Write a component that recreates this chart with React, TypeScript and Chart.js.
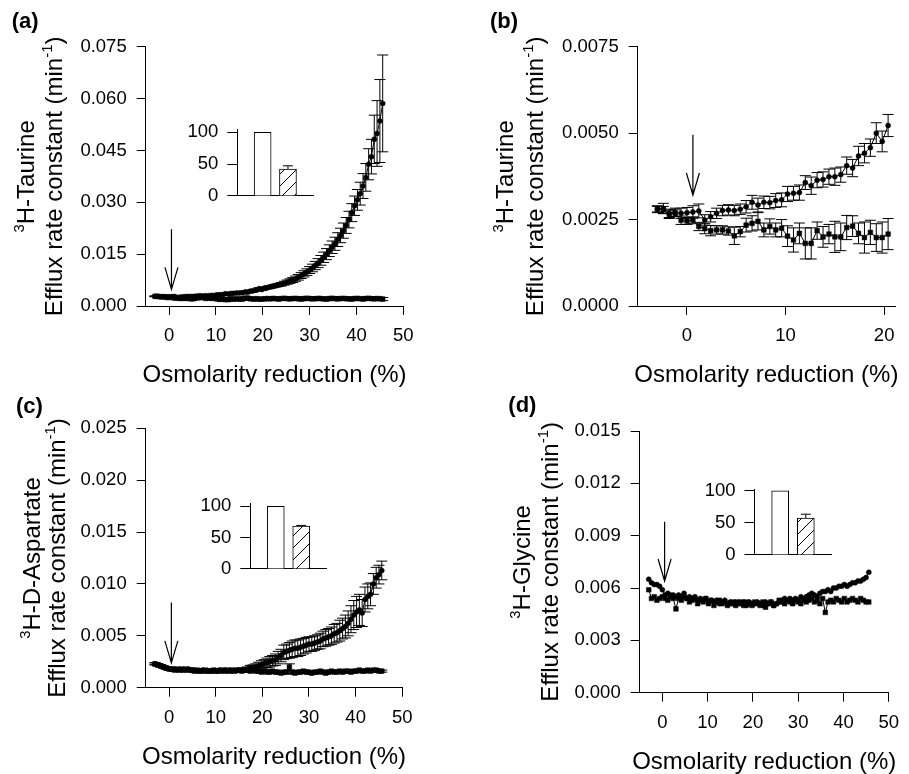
import React, { useEffect, useRef } from 'react';
import { Chart, registerables } from 'chart.js';

Chart.register(...registerables);

const FONT = '"Liberation Sans", Arial, Helvetica, sans-serif';

// ---------------- DATA ----------------
const osmReduction = [
  -3.0, -2.4, -1.8, -1.2, -0.6, 0.0, 0.6, 1.2, 1.8, 2.4,
  3.0, 3.6, 4.2, 4.8, 5.4, 6.0, 6.6, 7.2, 7.8, 8.4,
  9.0, 9.6, 10.2, 10.8, 11.4, 12.0, 12.6, 13.2, 13.8, 14.4,
  15.0, 15.6, 16.2, 16.8, 17.4, 18.0, 18.6, 19.2, 19.8, 20.4,
  21.0, 21.6, 22.2, 22.8, 23.4, 24.0, 24.6, 25.2, 25.8, 26.4,
  27.0, 27.6, 28.2, 28.8, 29.4, 30.0, 30.6, 31.2, 31.8, 32.4,
  33.0, 33.6, 34.2, 34.8, 35.4, 36.0, 36.6, 37.2, 37.8, 38.4,
  39.0, 39.6, 40.2, 40.8, 41.4, 42.0, 42.6, 43.2, 43.8, 44.4,
  45.0, 45.6,
];

const taurineHypo = [
  0.00280, 0.00282, 0.00268, 0.00271, 0.00268, 0.00270, 0.00272, 0.00275, 0.00249, 0.00258,
  0.00268, 0.00276, 0.00278, 0.00276, 0.00280, 0.00287, 0.00300, 0.00292, 0.00300, 0.00299,
  0.00305, 0.00307, 0.00324, 0.00326, 0.00328, 0.00357, 0.00348, 0.00364, 0.00366, 0.00374,
  0.00374, 0.00380, 0.00406, 0.00399, 0.00434, 0.00442, 0.00458, 0.00500, 0.00476, 0.00522,
  0.00530, 0.00550, 0.00570, 0.00590, 0.00610, 0.00630, 0.00660, 0.00690, 0.00720, 0.00750,
  0.00790, 0.00830, 0.00880, 0.00930, 0.00980, 0.01040, 0.01100, 0.01170, 0.01240, 0.01320,
  0.01410, 0.01500, 0.01600, 0.01700, 0.01800, 0.01920, 0.02040, 0.02180, 0.02330, 0.02500,
  0.02700, 0.02900, 0.03070, 0.03250, 0.03470, 0.03720, 0.04100, 0.04320, 0.04820, 0.04990,
  0.05350, 0.05860,
];
const taurineHypoErr = [
  0.00010, 0.00015, 0.00012, 0.00012, 0.00015, 0.00015, 0.00018, 0.00020, 0.00015, 0.00015,
  0.00015, 0.00015, 0.00015, 0.00015, 0.00015, 0.00018, 0.00020, 0.00020, 0.00018, 0.00018,
  0.00020, 0.00020, 0.00022, 0.00020, 0.00022, 0.00020, 0.00025, 0.00022, 0.00022, 0.00022,
  0.00025, 0.00022, 0.00025, 0.00025, 0.00028, 0.00028, 0.00025, 0.00030, 0.00030, 0.00032,
  0.00035, 0.00038, 0.00040, 0.00042, 0.00045, 0.00050, 0.00055, 0.00060, 0.00065, 0.00070,
  0.00075, 0.00080, 0.00085, 0.00090, 0.00095, 0.00100, 0.00110, 0.00120, 0.00130, 0.00140,
  0.00150, 0.00160, 0.00170, 0.00180, 0.00190, 0.00200, 0.00210, 0.00220, 0.00230, 0.00240,
  0.00260, 0.00280, 0.00300, 0.00330, 0.00360, 0.00400, 0.00450, 0.00500, 0.00700, 0.00950,
  0.01200, 0.01400,
];
const taurineBlocked = [
  0.00280, 0.00278, 0.00265, 0.00268, 0.00248, 0.00246, 0.00248, 0.00230, 0.00224, 0.00218,
  0.00220, 0.00220, 0.00217, 0.00203, 0.00215, 0.00234, 0.00239, 0.00245, 0.00220, 0.00230,
  0.00220, 0.00225, 0.00202, 0.00191, 0.00210, 0.00181, 0.00181, 0.00218, 0.00200, 0.00208,
  0.00200, 0.00200, 0.00227, 0.00231, 0.00210, 0.00198, 0.00213, 0.00198, 0.00198, 0.00208,
  0.00215, 0.00205, 0.00220, 0.00210, 0.00200, 0.00215, 0.00225, 0.00210, 0.00205, 0.00215,
  0.00220, 0.00210, 0.00200, 0.00215, 0.00225, 0.00215, 0.00205, 0.00210, 0.00220, 0.00215,
  0.00205, 0.00200, 0.00215, 0.00225, 0.00210, 0.00205, 0.00215, 0.00220, 0.00210, 0.00205,
  0.00200, 0.00215, 0.00220, 0.00210, 0.00200, 0.00215, 0.00225, 0.00210, 0.00205, 0.00215,
  0.00210, 0.00200,
];
const taurineBlockedErr = [
  0.00008, 0.00010, 0.00012, 0.00010, 0.00012, 0.00010, 0.00010, 0.00012, 0.00015, 0.00015,
  0.00012, 0.00012, 0.00012, 0.00025, 0.00015, 0.00020, 0.00022, 0.00025, 0.00020, 0.00022,
  0.00020, 0.00025, 0.00030, 0.00035, 0.00030, 0.00045, 0.00045, 0.00025, 0.00030, 0.00028,
  0.00045, 0.00040, 0.00035, 0.00030, 0.00030, 0.00045, 0.00035, 0.00040, 0.00045, 0.00045,
  0.00040, 0.00035, 0.00040, 0.00045, 0.00040, 0.00035, 0.00040, 0.00045, 0.00040, 0.00040,
  0.00035, 0.00040, 0.00045, 0.00040, 0.00035, 0.00040, 0.00040, 0.00045, 0.00040, 0.00035,
  0.00040, 0.00045, 0.00040, 0.00040, 0.00035, 0.00040, 0.00045, 0.00040, 0.00035, 0.00040,
  0.00040, 0.00045, 0.00040, 0.00035, 0.00040, 0.00040, 0.00045, 0.00040, 0.00035, 0.00040,
  0.00040, 0.00045,
];

const aspartateHypo = [
  0.0023, 0.0022, 0.0021, 0.0020, 0.0019, 0.0018, 0.0018, 0.0018, 0.0017, 0.0018,
  0.0018, 0.0017, 0.0018, 0.0017, 0.0017, 0.0016, 0.0016, 0.0017, 0.0016, 0.0016,
  0.0016, 0.0016, 0.0016, 0.0017, 0.0016, 0.0017, 0.0016, 0.0017, 0.0017, 0.0016,
  0.0017, 0.0017, 0.0017, 0.0018, 0.0019, 0.0019, 0.0020, 0.0021, 0.0022, 0.0023,
  0.0024, 0.0025, 0.0026, 0.0027, 0.0029, 0.0031, 0.0034, 0.0035, 0.0036, 0.0037,
  0.0038, 0.0038, 0.0039, 0.0040, 0.0041, 0.0042, 0.0042, 0.0043, 0.0044, 0.0045,
  0.0047, 0.0048, 0.0049, 0.0050, 0.0052, 0.0053, 0.0055, 0.0057, 0.0059, 0.0062,
  0.0066, 0.0070, 0.0073, 0.0075, 0.0072, 0.0085, 0.0088, 0.0090, 0.0100, 0.0106,
  0.0109, 0.0113,
];
const aspartateHypoErr = [
  0.00010, 0.00010, 0.00008, 0.00008, 0.00010, 0.00008, 0.00008, 0.00010, 0.00008, 0.00008,
  0.00008, 0.00010, 0.00008, 0.00008, 0.00010, 0.00008, 0.00008, 0.00010, 0.00008, 0.00010,
  0.00010, 0.00008, 0.00010, 0.00010, 0.00008, 0.00010, 0.00010, 0.00012, 0.00012, 0.00012,
  0.00015, 0.00015, 0.00020, 0.00020, 0.00025, 0.00030, 0.00030, 0.00035, 0.00040, 0.00040,
  0.00045, 0.00050, 0.00050, 0.00055, 0.00060, 0.00060, 0.00070, 0.00070, 0.00075, 0.00080,
  0.00080, 0.00080, 0.00080, 0.00075, 0.00075, 0.00070, 0.00070, 0.00070, 0.00070, 0.00075,
  0.00075, 0.00080, 0.00080, 0.00085, 0.00090, 0.00090, 0.00100, 0.00100, 0.00110, 0.00120,
  0.00130, 0.00140, 0.00150, 0.00150, 0.00130, 0.00120, 0.00120, 0.00110, 0.00100, 0.00100,
  0.00090, 0.00090,
];
const aspartateBlocked = [
  0.0023, 0.0022, 0.0021, 0.0020, 0.0019, 0.0018, 0.0018, 0.0017, 0.0018, 0.0017,
  0.0017, 0.0018, 0.0017, 0.0017, 0.0016, 0.0017, 0.0016, 0.0016, 0.0017, 0.0016,
  0.0016, 0.0017, 0.0016, 0.0016, 0.0017, 0.0016, 0.0017, 0.0016, 0.0016, 0.0017,
  0.0017, 0.0016, 0.0017, 0.0017, 0.0016, 0.0017, 0.0016, 0.0016, 0.0015, 0.0016,
  0.0015, 0.0015, 0.0016, 0.0015, 0.0015, 0.0014, 0.0015, 0.0015, 0.0020, 0.0015,
  0.0014, 0.0015, 0.0015, 0.0016, 0.0015, 0.0015, 0.0014, 0.0015, 0.0015, 0.0016,
  0.0015, 0.0014, 0.0015, 0.0016, 0.0015, 0.0015, 0.0016, 0.0015, 0.0016, 0.0016,
  0.0015, 0.0016, 0.0016, 0.0017, 0.0016, 0.0016, 0.0017, 0.0016, 0.0017, 0.0017,
  0.0016, 0.0016,
];
const aspartateBlockedErr = [
  0.00010, 0.00008, 0.00010, 0.00008, 0.00008, 0.00010, 0.00008, 0.00010, 0.00008, 0.00008,
  0.00010, 0.00008, 0.00010, 0.00008, 0.00010, 0.00008, 0.00010, 0.00008, 0.00008, 0.00010,
  0.00008, 0.00010, 0.00008, 0.00010, 0.00008, 0.00010, 0.00008, 0.00010, 0.00008, 0.00010,
  0.00010, 0.00008, 0.00010, 0.00008, 0.00010, 0.00008, 0.00010, 0.00008, 0.00010, 0.00010,
  0.00010, 0.00008, 0.00010, 0.00010, 0.00008, 0.00010, 0.00010, 0.00015, 0.00030, 0.00012,
  0.00010, 0.00010, 0.00008, 0.00010, 0.00010, 0.00008, 0.00010, 0.00010, 0.00008, 0.00010,
  0.00010, 0.00008, 0.00010, 0.00010, 0.00008, 0.00010, 0.00010, 0.00008, 0.00010, 0.00010,
  0.00008, 0.00010, 0.00010, 0.00008, 0.00010, 0.00010, 0.00008, 0.00010, 0.00010, 0.00008,
  0.00010, 0.00010,
];

const glycineHypo = [
  0.0065, 0.0063, 0.0062, 0.0062, 0.0061, 0.0059, 0.0056, 0.0057, 0.0056, 0.0056,
  0.0055, 0.0056, 0.0055, 0.0057, 0.0054, 0.0055, 0.0054, 0.0055, 0.0053, 0.0054,
  0.0053, 0.0054, 0.0052, 0.0053, 0.0052, 0.0053, 0.0051, 0.0052, 0.0053, 0.0051,
  0.0052, 0.0051, 0.0052, 0.0052, 0.0051, 0.0052, 0.0050, 0.0052, 0.0051, 0.0051,
  0.0052, 0.0051, 0.0050, 0.0052, 0.0051, 0.0052, 0.0050, 0.0051, 0.0052, 0.0053,
  0.0054, 0.0053, 0.0054, 0.0053, 0.0054, 0.0053, 0.0055, 0.0054, 0.0055, 0.0056,
  0.0057, 0.0056, 0.0055, 0.0057, 0.0058, 0.0058, 0.0059, 0.0058, 0.0060, 0.0060,
  0.0061, 0.0061, 0.0062, 0.0061, 0.0062, 0.0063, 0.0063, 0.0064, 0.0064, 0.0065,
  0.0066, 0.0069,
];
const glycineBlocked = [
  0.0059, 0.0054, 0.0055, 0.0053, 0.0054, 0.0055, 0.0054, 0.0053, 0.0055, 0.0054,
  0.0048, 0.0054, 0.0053, 0.0055, 0.0054, 0.0052, 0.0053, 0.0054, 0.0051, 0.0053,
  0.0052, 0.0054, 0.0051, 0.0053, 0.0050, 0.0052, 0.0053, 0.0051, 0.0052, 0.0050,
  0.0051, 0.0052, 0.0050, 0.0051, 0.0052, 0.0050, 0.0052, 0.0051, 0.0050, 0.0052,
  0.0051, 0.0050, 0.0052, 0.0049, 0.0051, 0.0052, 0.0050, 0.0051, 0.0053, 0.0052,
  0.0051, 0.0053, 0.0052, 0.0051, 0.0053, 0.0052, 0.0051, 0.0053, 0.0052, 0.0053,
  0.0054, 0.0052, 0.0053, 0.0051, 0.0054, 0.0046, 0.0052, 0.0053, 0.0052, 0.0054,
  0.0053, 0.0052, 0.0054, 0.0052, 0.0053, 0.0054, 0.0053, 0.0052, 0.0054, 0.0053,
  0.0052, 0.0052,
];

const xTicksWide = [0, 10, 20, 30, 40, 50];
const xTicksNarrow = [0, 10, 20];
const yTicksA = [0, 0.015, 0.03, 0.045, 0.06, 0.075];
const yTicksB = [0, 0.0025, 0.005, 0.0075];
const yTicksC = [0, 0.005, 0.01, 0.015, 0.02, 0.025];
const yTicksD = [0, 0.003, 0.006, 0.009, 0.012, 0.015];

// arrows: [x, from y, to y] in data units
const arrowA = [0.5, 0.0222, 0.0048];
const arrowB = [0.6, 0.00495, 0.00321];
const arrowC = [0.5, 0.0082, 0.0024];
const arrowD = [0.5, 0.0098, 0.0064];

// insets (% of hypo-osmotic response)
const insetCategories = ['', 'Hypo', 'Hypo + blocker', ''];
const insetTicks = [0, 50, 100];
const insetTaurine = [null, 100, 42, null];
const insetTaurineErr = [0, 0, 5.3, 0];
const insetAspartate = [null, 100, 68.4, null];
const insetAspartateErr = [0, 0, 1.0, 0];
const insetGlycine = [null, 100, 57.6, null];
const insetGlycineErr = [0, 0, 5.9, 0];

// ---------------- HELPERS ----------------
type Seg = { t: string; sup?: boolean };
type Box = { left: number; top: number; width: number; height: number };
type Area = { left: number; right: number; top: number; bottom: number };

function drawSegs(ctx: CanvasRenderingContext2D, segs: Seg[], cx: number, by: number, size: number) {
  const widths = segs.map((s) => {
    ctx.font = `${s.sup ? size * 0.62 : size}px ${FONT}`;
    return ctx.measureText(s.t).width;
  });
  const total = widths.reduce((a, b) => a + b, 0);
  let x = cx - total / 2;
  ctx.textAlign = 'left';
  ctx.textBaseline = 'alphabetic';
  segs.forEach((s, i) => {
    ctx.font = `${s.sup ? size * 0.62 : size}px ${FONT}`;
    ctx.fillText(s.t, x, s.sup ? by - size * 0.42 : by);
    x += widths[i];
  });
}

const errorBarPlugin = {
  id: 'errorBars',
  beforeDatasetsDraw(chart: any) {
    const { ctx, chartArea } = chart;
    ctx.save();
    ctx.beginPath();
    ctx.rect(chartArea.left, chartArea.top - 2, chartArea.right - chartArea.left, chartArea.bottom - chartArea.top + 4);
    ctx.clip();
    chart.data.datasets.forEach((ds: any, di: number) => {
      if (!ds.errors) return;
      const meta = chart.getDatasetMeta(di);
      const yScale = chart.scales[meta.yAxisID];
      const cap = ds.capHalf ?? 5;
      ctx.strokeStyle = '#000';
      ctx.lineWidth = 1;
      ds.data.forEach((p: any, i: number) => {
        const e = ds.errors[i];
        if (!e || p == null) return;
        const el = meta.data[i];
        if (!el) return;
        const yv = typeof p === 'object' ? p.y : p;
        if (yv == null) return;
        const px = el.x;
        const yTop = yScale.getPixelForValue(yv + e);
        const yBot = ds.upOnly ? yScale.getPixelForValue(yv) : yScale.getPixelForValue(yv - e);
        ctx.beginPath();
        ctx.moveTo(px, yTop);
        ctx.lineTo(px, yBot);
        ctx.moveTo(px - cap, yTop);
        ctx.lineTo(px + cap, yTop);
        if (!ds.upOnly) {
          ctx.moveTo(px - cap, yBot);
          ctx.lineTo(px + cap, yBot);
        }
        ctx.stroke();
      });
    });
    ctx.restore();
  },
};

interface Series {
  ys: number[];
  errs?: number[];
  marker: 'circle' | 'rect';
}

interface MainSpec {
  box: Box;
  area: Area;
  xs: number[];
  series: Series[];
  xMin: number;
  xMax: number;
  xTicks: number[];
  yMax: number;
  yTicks: number[];
  decimals: number;
  arrow: number[];
  letter: string;
  letterAt: [number, number];
  title1: Seg[];
  title2: Seg[];
  titleOffsets: [number, number];
}

const TITLE_SIZE = 24;

function MainPanel(p: MainSpec) {
  const ref = useRef<HTMLCanvasElement>(null);
  useEffect(() => {
    const { box, area } = p;
    const textPlugin = {
      id: 'panelText',
      afterDraw(chart: any) {
        const ctx: CanvasRenderingContext2D = chart.ctx;
        const ca = chart.chartArea;
        const xs = chart.scales.x;
        const ys = chart.scales.y;
        ctx.save();
        ctx.fillStyle = '#000';
        ctx.strokeStyle = '#000';
        // arrow
        const ax = xs.getPixelForValue(p.arrow[0]);
        const a0 = ys.getPixelForValue(p.arrow[1]);
        const a1 = ys.getPixelForValue(p.arrow[2]);
        ctx.lineWidth = 1.2;
        ctx.beginPath();
        ctx.moveTo(ax, a0);
        ctx.lineTo(ax, a1);
        ctx.moveTo(ax - 6.5, a1 - 22);
        ctx.lineTo(ax, a1);
        ctx.lineTo(ax + 6.5, a1 - 22);
        ctx.stroke();
        // panel letter
        ctx.font = `bold 22px ${FONT}`;
        ctx.textAlign = 'left';
        ctx.textBaseline = 'alphabetic';
        ctx.fillText(p.letter, p.letterAt[0] - box.left, p.letterAt[1] - box.top);
        // x title
        drawSegs(ctx, [{ t: 'Osmolarity reduction (%)' }], (ca.left + ca.right) / 2, ca.bottom + 76, TITLE_SIZE);
        // y titles
        const cy = (ca.top + ca.bottom) / 2;
        ctx.save();
        ctx.translate(ca.left + p.titleOffsets[0], cy);
        ctx.rotate(-Math.PI / 2);
        drawSegs(ctx, p.title1, 0, 0, TITLE_SIZE);
        ctx.restore();
        ctx.save();
        ctx.translate(ca.left + p.titleOffsets[1], cy);
        ctx.rotate(-Math.PI / 2);
        drawSegs(ctx, p.title2, 0, 0, TITLE_SIZE);
        ctx.restore();
        ctx.restore();
      },
    };
    const datasets = p.series.map((s) => ({
      data: p.xs.map((x, i) => ({ x, y: s.ys[i] })),
      errors: s.errs,
      capHalf: 5.5,
      borderColor: '#000',
      borderWidth: 1,
      backgroundColor: '#000',
      pointStyle: s.marker,
      pointRadius: s.marker === 'rect' ? 3.3 : 2.5,
      pointBackgroundColor: '#000',
      pointBorderColor: '#000',
      pointBorderWidth: 0.5,
      tension: 0,
      fill: false,
    }));
    const tickFont = { family: FONT, size: 18.5 };
    const chart = new Chart(ref.current!, {
      type: 'line',
      data: { datasets } as any,
      plugins: [errorBarPlugin, textPlugin] as any,
      options: {
        responsive: false,
        animation: false,
        devicePixelRatio: 1,
        events: [],
        layout: {
          padding: {
            left: 0,
            top: area.top - box.top,
            right: box.left + box.width - area.right,
            bottom: 0,
          },
        },
        plugins: { legend: { display: false }, tooltip: { enabled: false } },
        scales: {
          x: {
            type: 'linear',
            min: p.xMin,
            max: p.xMax,
            afterBuildTicks: (s: any) => {
              s.ticks = p.xTicks.map((v) => ({ value: v }));
            },
            afterFit: (s: any) => {
              s.height = box.top + box.height - area.bottom;
            },
            grid: { display: true, drawOnChartArea: false, drawTicks: true, tickLength: 9, color: '#000', lineWidth: 1 },
            border: { display: true, color: '#000', width: 1 },
            ticks: { color: '#000', font: tickFont, padding: 10, maxRotation: 0, autoSkip: false },
          },
          y: {
            type: 'linear',
            min: 0,
            max: p.yMax,
            afterBuildTicks: (s: any) => {
              s.ticks = p.yTicks.map((v) => ({ value: v }));
            },
            afterFit: (s: any) => {
              s.width = area.left - box.left;
            },
            grid: { display: true, drawOnChartArea: false, drawTicks: true, tickLength: 9, color: '#000', lineWidth: 1 },
            border: { display: true, color: '#000', width: 1 },
            ticks: {
              color: '#000',
              font: tickFont,
              padding: 10,
              autoSkip: false,
              callback: (v: any) => Number(v).toFixed(p.decimals),
            },
          },
        },
      } as any,
    });
    return () => chart.destroy();
  }, []);
  return (
    <canvas
      ref={ref}
      width={p.box.width}
      height={p.box.height}
      style={{ position: 'absolute', left: p.box.left, top: p.box.top, width: p.box.width, height: p.box.height }}
    />
  );
}

interface InsetSpec {
  area: Area;
  yMax: number;
  values: (number | null)[];
  errs: number[];
}

function makeHatch(): CanvasPattern | string {
  const c = document.createElement('canvas');
  c.width = 12;
  c.height = 12;
  const g = c.getContext('2d');
  if (!g) return '#fff';
  g.fillStyle = '#fff';
  g.fillRect(0, 0, 12, 12);
  g.strokeStyle = '#000';
  g.lineWidth = 1;
  g.beginPath();
  g.moveTo(0, 12);
  g.lineTo(12, 0);
  g.moveTo(-6, 6);
  g.lineTo(6, -6);
  g.moveTo(6, 18);
  g.lineTo(18, 6);
  g.stroke();
  return g.createPattern(c, 'repeat') || '#fff';
}

function InsetPanel(p: InsetSpec) {
  const ref = useRef<HTMLCanvasElement>(null);
  const { area } = p;
  const box: Box = {
    left: Math.round(area.left - 60),
    top: Math.round(area.top - 15),
    width: Math.round(area.right - area.left + 70),
    height: Math.round(area.bottom - area.top + 30),
  };
  useEffect(() => {
    const hatch = makeHatch();
    const chart = new Chart(ref.current!, {
      type: 'bar',
      data: {
        labels: insetCategories,
        datasets: [
          {
            data: p.values,
            errors: p.errs,
            upOnly: true,
            capHalf: 5,
            backgroundColor: ['#fff', '#fff', hatch, '#fff'],
            borderColor: '#000',
            borderWidth: 1,
            barThickness: 17,
          },
        ],
      } as any,
      plugins: [errorBarPlugin] as any,
      options: {
        responsive: false,
        animation: false,
        devicePixelRatio: 1,
        events: [],
        layout: {
          padding: {
            left: 0,
            top: area.top - box.top,
            right: box.left + box.width - area.right,
            bottom: 0,
          },
        },
        plugins: { legend: { display: false }, tooltip: { enabled: false } },
        scales: {
          x: {
            type: 'category',
            offset: false,
            afterFit: (s: any) => {
              s.height = box.top + box.height - area.bottom;
            },
            grid: { display: true, drawOnChartArea: false, drawTicks: false },
            border: { display: true, color: '#000', width: 1 },
            ticks: { display: false },
          },
          y: {
            type: 'linear',
            min: 0,
            max: p.yMax,
            afterBuildTicks: (s: any) => {
              s.ticks = insetTicks.map((v) => ({ value: v }));
            },
            afterFit: (s: any) => {
              s.width = area.left - box.left;
            },
            grid: { display: true, drawOnChartArea: false, drawTicks: true, tickLength: 10, color: '#000' },
            border: { display: true, color: '#000', width: 1 },
            ticks: { color: '#000', font: { family: FONT, size: 18.5 }, padding: 9, autoSkip: false },
          },
        },
      } as any,
    });
    return () => chart.destroy();
  }, []);
  return (
    <canvas
      ref={ref}
      width={box.width}
      height={box.height}
      style={{ position: 'absolute', left: box.left, top: box.top, width: box.width, height: box.height }}
    />
  );
}

const effluxTitle: Seg[] = [{ t: 'Efflux rate constant (min' }, { t: '-1', sup: true }, { t: ')' }];

export default function App() {
  const nB = 40;
  return (
    <div style={{ position: 'fixed', left: 0, top: 0, width: 909, height: 774, background: '#fff', overflow: 'hidden' }}>
      <MainPanel
        box={{ left: 0, top: 0, width: 450, height: 390 }}
        area={{ left: 145.7, right: 403.3, top: 46.7, bottom: 306 }}
        xs={osmReduction}
        series={[
          { ys: taurineBlocked, errs: taurineBlockedErr, marker: 'rect' },
          { ys: taurineHypo, errs: taurineHypoErr, marker: 'circle' },
        ]}
        xMin={-5}
        xMax={50}
        xTicks={xTicksWide}
        yMax={0.075}
        yTicks={yTicksA}
        decimals={3}
        arrow={arrowA}
        letter="(a)"
        letterAt={[11.7, 28]}
        title1={[{ t: '3', sup: true }, { t: 'H-Taurine' }]}
        title2={effluxTitle}
        titleOffsets={[-112, -84]}
      />
      <MainPanel
        box={{ left: 450, top: 0, width: 459, height: 390 }}
        area={{ left: 637.7, right: 895, top: 46.7, bottom: 306 }}
        xs={osmReduction.slice(0, nB)}
        series={[
          { ys: taurineBlocked.slice(0, nB), errs: taurineBlockedErr.slice(0, nB), marker: 'rect' },
          { ys: taurineHypo.slice(0, nB), errs: taurineHypoErr.slice(0, nB), marker: 'circle' },
        ]}
        xMin={-5}
        xMax={21.1}
        xTicks={xTicksNarrow}
        yMax={0.0075}
        yTicks={yTicksB}
        decimals={4}
        arrow={arrowB}
        letter="(b)"
        letterAt={[490, 28]}
        title1={[{ t: '3', sup: true }, { t: 'H-Taurine' }]}
        title2={effluxTitle}
        titleOffsets={[-125, -95]}
      />
      <MainPanel
        box={{ left: 0, top: 390, width: 450, height: 384 }}
        area={{ left: 145.7, right: 402.3, top: 428.3, bottom: 687.7 }}
        xs={osmReduction}
        series={[
          { ys: aspartateBlocked, errs: aspartateBlockedErr, marker: 'rect' },
          { ys: aspartateHypo, errs: aspartateHypoErr, marker: 'circle' },
        ]}
        xMin={-5}
        xMax={50}
        xTicks={xTicksWide}
        yMax={0.025}
        yTicks={yTicksC}
        decimals={3}
        arrow={arrowC}
        letter="(c)"
        letterAt={[16, 413]}
        title1={[{ t: '3', sup: true }, { t: 'H-D-Aspartate' }]}
        title2={effluxTitle}
        titleOffsets={[-106, -80.7]}
      />
      <MainPanel
        box={{ left: 450, top: 390, width: 459, height: 384 }}
        area={{ left: 639.7, right: 897, top: 431, bottom: 692.7 }}
        xs={osmReduction}
        series={[
          { ys: glycineBlocked, marker: 'rect' },
          { ys: glycineHypo, marker: 'circle' },
        ]}
        xMin={-5}
        xMax={50}
        xTicks={xTicksWide}
        yMax={0.015}
        yTicks={yTicksD}
        decimals={3}
        arrow={arrowD}
        letter="(d)"
        letterAt={[508.3, 412]}
        title1={[{ t: '3', sup: true }, { t: 'H-Glycine' }]}
        title2={effluxTitle}
        titleOffsets={[-110, -81.4]}
      />
      <InsetPanel area={{ left: 237.3, right: 313.3, top: 123.6, bottom: 200.7 }} yMax={105} values={insetTaurine} errs={insetTaurineErr} />
      <InsetPanel area={{ left: 250.3, right: 326.7, top: 498.3, bottom: 574.7 }} yMax={105} values={insetAspartate} errs={insetAspartateErr} />
      <InsetPanel area={{ left: 754.5, right: 831.5, top: 483.5, bottom: 559.3 }} yMax={102.7} values={insetGlycine} errs={insetGlycineErr} />
    </div>
  );
}
